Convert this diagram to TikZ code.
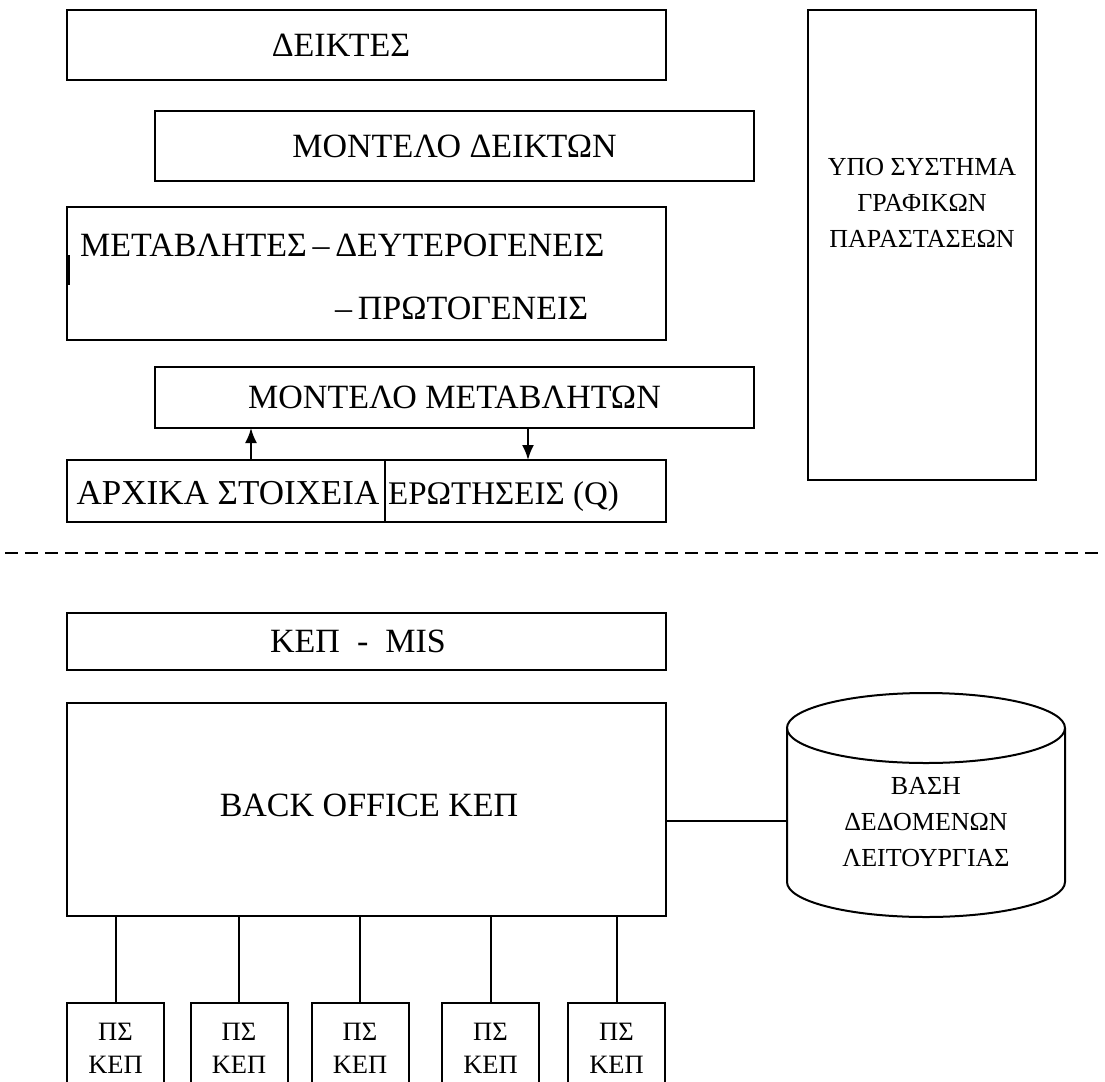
\documentclass[tikz,border=0pt]{standalone}
\usepackage{fontspec}
\setmainfont{Liberation Serif}
\usetikzlibrary{arrows.meta}
\begin{document}
\begin{tikzpicture}[x=1pt,y=-1pt,
  box/.style={draw, line width=2pt, inner sep=0pt, outer sep=0pt, font=\fontsize{34}{40}\selectfont},
  txt/.style={inner sep=0pt, font=\fontsize{34}{40}\selectfont},
  small/.style={inner sep=0pt, align=center, font=\fontsize{26}{36}\selectfont},
  pstxt/.style={inner sep=0pt, align=center, font=\fontsize{26.5}{33}\selectfont},
  psbox/.style={draw, line width=2pt, inner sep=0pt, outer sep=0pt, minimum width=97pt, minimum height=100pt},
  conn/.style={line width=2pt},
  arr/.style={line width=2pt, -{Latex[length=15pt,width=12pt]}},
  sep/.style={line width=2pt, dash pattern=on 13pt off 7pt}]
\useasboundingbox (0,0) rectangle (1105,1081);
\clip (0,0) rectangle (1105,1081);
% upper part
\node[box, minimum width=599pt, minimum height=70pt] (deik) at (366.5,45) {};
\node[txt] (deikt) at (341,45) {ΔΕΙΚΤΕΣ};
\node[box, minimum width=599pt, minimum height=70pt] (mdeik) at (454.5,146) {ΜΟΝΤΕΛΟ ΔΕΙΚΤΩΝ};
\node[box, minimum width=599pt, minimum height=133pt] (metab) at (366.5,273.5) {};
\node[txt, anchor=west] (metab1) at (80,245) {ΜΕΤΑΒΛΗΤΕΣ\,–\,ΔΕΥΤΕΡΟΓΕΝΕΙΣ};
\node[txt, anchor=west] (metab2) at (335,308) {–\,ΠΡΩΤΟΓΕΝΕΙΣ};
\draw[line width=2pt] ([xshift=1.5pt,yshift=18.5pt]metab.west) -- ([xshift=1.5pt,yshift=-11.5pt]metab.west);
\node[box, minimum width=599pt, minimum height=61pt] (mmet) at (454.5,397.5) {ΜΟΝΤΕΛΟ ΜΕΤΑΒΛΗΤΩΝ};
\node[box, minimum width=318pt, minimum height=62pt] (arx) at (226,491) {};
\node[txt, font=\fontsize{35}{40}\selectfont] (arxt) at (228,493) {ΑΡΧΙΚΑ ΣΤΟΙΧΕΙΑ};
\node[box, minimum width=281pt, minimum height=62pt] (erot) at (525.5,491) {};
\node[txt, font=\fontsize{33}{40}\selectfont, anchor=base west] (erott) at (388,504) {ΕΡΩΤΗΣΕΙΣ (Q)};
\draw[arr] ([xshift=25pt]arx.north) -- ([xshift=25pt]arx.north |- mmet.south);
\draw[arr] ([xshift=2.5pt]erot.north |- mmet.south) -- ([xshift=2.5pt]erot.north);
\node[box, minimum width=228pt, minimum height=470pt] (ypo) at (922,245) {};
\node[small] (ypot) at (922,203) {ΥΠΟ ΣΥΣΤΗΜΑ\\ΓΡΑΦΙΚΩΝ\\ΠΑΡΑΣΤΑΣΕΩΝ};
% separator
\coordinate (dl) at (5,553);
\coordinate (dr) at (1105,553);
\draw[sep] (dl) -- (dr);
% lower part
\node[box, minimum width=599pt, minimum height=57pt] (kep) at (366.5,641.5) {};
\node[txt] (kept) at (358,641) {ΚΕΠ\hspace{0.5em}-\hspace{0.5em}MIS};
\node[box, minimum width=599pt, minimum height=213pt] (back) at (366.5,809.5) {};
\node[txt] (backt) at (369,805) {BACK OFFICE ΚΕΠ};
% database cylinder
\draw[line width=2pt, fill=white] (787,728) -- (787,882) arc[start angle=180, end angle=0, x radius=139, y radius=35] -- (1065,728);
\draw[line width=2pt] (926,728) ellipse [x radius=139, y radius=35];
\node[small] (dbt) at (926,822) {ΒΑΣΗ\\ΔΕΔΟΜΕΝΩΝ\\ΛΕΙΤΟΥΡΓΙΑΣ};
\coordinate (dbw) at (787,821);
\draw[conn] (back.east |- dbw) -- (dbw);
% client systems
\foreach \i/\x in {1/115.5, 2/239, 3/360, 4/490.5, 5/616.5} {
  \node[psbox] (ps\i) at (\x,1053) {};
  \node[pstxt] (pst\i) at (\x,1048.5) {ΠΣ\\ΚΕΠ};
  \draw[conn] (ps\i.north) -- (ps\i.north |- back.south);
}
\end{tikzpicture}
\end{document}
